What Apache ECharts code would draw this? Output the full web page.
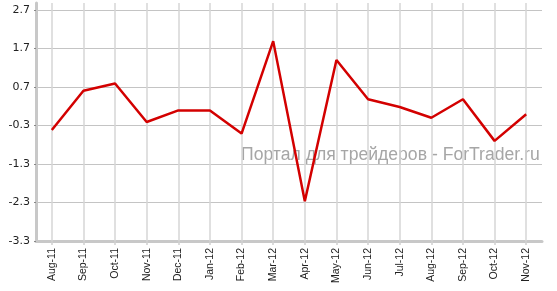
<!DOCTYPE html>
<html>
<head>
<meta charset="utf-8">
<script src="https://cdn.jsdelivr.net/npm/echarts@6/dist/echarts.min.js"></script>
<style>
html,body{margin:0;padding:0;background:#fff;}
#c{width:557px;height:291px;}
</style>
</head>
<body>
<div id="c"></div>
<script>
var categories = ['Aug-11','Sep-11','Oct-11','Nov-11','Dec-11','Jan-12','Feb-12','Mar-12','Apr-12','May-12','Jun-12','Jul-12','Aug-12','Sep-12','Oct-12','Nov-12'];
var values = [-0.42, 0.6, 0.79, -0.21, 0.09, 0.09, -0.51, 1.89, -2.27, 1.4, 0.38, 0.18, -0.1, 0.38, -0.7, -0.01];
var yMin = -3.3;
var yMax = 2.88;
var yStep = 1;
var watermark = 'Портал для трейдеров - ForTrader.ru';

var chart = echarts.init(document.getElementById('c'), null, {renderer: 'canvas'});
chart.setOption({
  animation: false,
  backgroundColor: '#fff',
  grid: {left: 36, right: 15, top: 3, bottom: 50, containLabel: false},
  graphic: [{
    type: 'text', left: 241, top: 146, z: 0, silent: true,
    style: {text: watermark, fill: '#a6a6a6', font: '17.6px "Liberation Sans", Arial, sans-serif'}
  }],
  xAxis: {
    type: 'category',
    data: categories,
    boundaryGap: true,
    axisLine: {show: true, onZero: false, lineStyle: {color: '#c8c8c8', width: 3}},
    axisTick: {show: true, alignWithLabel: true, length: 4, lineStyle: {color: '#d0d0d0', width: 1.5}},
    splitLine: {show: false},
    axisLabel: {rotate: 90, margin: 7, color: '#222', fontSize: 10.5, fontFamily: '"Liberation Sans", Arial, sans-serif', interval: 0}
  },
  yAxis: {
    type: 'value',
    min: yMin,
    max: yMax,
    interval: yStep,
    axisLine: {show: true, lineStyle: {color: '#c8c8c8', width: 3}},
    axisTick: {show: true, length: 2, lineStyle: {color: '#888', width: 1}},
    axisLabel: {color: '#222', fontSize: 11, fontFamily: '"DejaVu Sans", Verdana, sans-serif', margin: 6, showMaxLabel: false,
      formatter: function (v) { return (Math.round(v * 10) / 10).toFixed(1); }},
    splitLine: {show: true, showMaxLine: false, lineStyle: {color: '#c4c4c4', width: 1}}
  },
  series: [{
    type: 'line',
    data: values,
    symbol: 'none',
    lineStyle: {color: '#d30000', width: 2.5},
    z: 3,
    markLine: {
      silent: true,
      symbol: 'none',
      label: {show: false},
      animation: false,
      lineStyle: {color: '#d6d6d6', width: 1.5, type: 'solid'},
      z: 1,
      data: categories.map(function (c) { return {xAxis: c}; })
    }
  }]
});
</script>
</body>
</html>
